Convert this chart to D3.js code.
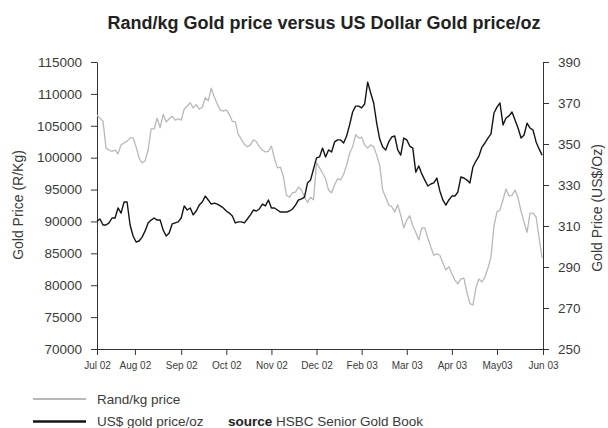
<!DOCTYPE html>
<html>
<head>
<meta charset="utf-8">
<script src="https://cdn.jsdelivr.net/npm/d3@7"></script>
<style>
  html, body { margin: 0; padding: 0; background: #fff; }
  svg { display: block; font-family: "Liberation Sans", Arial, Helvetica, sans-serif; }
</style>
</head>
<body>
<svg id="chart" width="608" height="428"></svg>
<script>
// ---- Data ----
const monthLabels = ["Jul 02","Aug 02","Sep 02","Oct 02","Nov 02","Dec 02","Feb 03","Mar 03","Apr 03","May03","Jun 03"];
const monthPositions = [0, 12.6, 28, 43, 58, 73, 88, 103, 118, 133, 148.3];
const randTicks = [70000,75000,80000,85000,90000,95000,100000,105000,110000,115000];
const usdTicks = [250,270,290,310,330,350,370,390];

// Rand per kg gold price (left axis)
const randPrice = [
106700,106200,105700,101500,101200,101000,101200,100600,102000,102300,
102600,103100,103100,101700,99900,99200,99500,101200,104500,104500,
106200,104700,106800,105600,106100,106500,105900,106100,105900,107600,
108100,108600,107800,108300,107600,107900,109400,108900,110900,109500,
108400,107500,107300,107500,106800,105700,105600,103600,102900,102100,
101700,102000,102800,102500,101700,101200,100900,101000,101800,99900,
98400,98500,97000,94100,93800,94500,94600,95400,94900,93800,
93000,93800,93400,99200,98400,97600,96700,94900,94500,95700,
96700,96500,97400,98800,100700,101700,103600,103100,103200,102000,
101500,102000,101700,100400,98800,94900,93800,92600,92300,91500,
92600,91000,89000,90200,90900,89300,88300,87100,89000,89000,
87400,86000,84700,84900,84700,83500,82400,82900,81800,80800,
80200,81000,81100,78900,77100,76900,79600,81000,80500,81300,
82700,84400,89300,91500,91800,93400,95100,94000,94100,94900,
93700,91600,89900,88300,91300,91300,90700,87400,84300
];

// US$ per ounce gold price (right axis)
const usdPrice = [
312.4,313.4,310.5,310.5,311.5,313.9,313.9,318.8,316.3,321.7,
321.7,310.5,305.1,302.2,302.7,304.6,307.6,311.5,312.9,313.9,
312.9,312.9,308.0,305.1,306.6,311.0,311.5,312.0,313.9,319.8,
317.8,318.8,315.4,317.3,320.2,321.7,324.6,322.7,320.7,321.2,
320.7,319.8,318.8,317.3,316.3,314.9,311.5,312.0,312.0,311.5,
313.4,315.4,317.8,317.3,318.3,320.7,319.8,322.7,318.8,318.8,
317.8,316.8,316.8,316.8,317.3,318.3,320.2,322.7,323.2,324.1,
331.0,332.4,337.8,343.2,343.7,348.0,343.7,347.1,346.1,351.0,
352.0,352.0,350.5,353.9,359.3,365.6,368.5,368.5,367.6,369.5,
380.2,374.9,370.0,360.2,352.4,348.5,347.1,351.0,353.4,353.9,
347.1,344.6,352.9,352.0,349.0,348.0,336.3,339.3,335.4,332.4,
329.5,330.5,331.0,333.4,327.1,322.7,320.2,322.7,324.6,324.6,
326.6,333.9,333.4,332.4,331.0,338.8,341.7,344.1,348.5,350.5,
352.9,354.9,365.1,368.0,370.0,359.3,362.7,363.7,365.6,361.7,
357.8,352.9,354.4,360.2,357.8,356.8,351.0,347.6,344.6
];

const titleText = "Rand/kg Gold price versus US Dollar Gold price/oz";
const leftTitle = "Gold Price (R/Kg)";
const rightTitle = "Gold Price (US$/Oz)";
const legendItems = ["Rand/kg price", "US$ gold price/oz"];

// ---- Drawing ----
const svg = d3.select("#chart");
const L = 97, R = 543, T = 62, B = 349;
const textColor = "#3a3a3a";
const grayColor = "#b8b8b8";
const blackColor = "#141414";

const x = d3.scaleLinear().domain([0, 148.3]).range([L, R]);
const yL = d3.scaleLinear().domain([70000, 115000]).range([B, T]);
const yR = d3.scaleLinear().domain([250, 390]).range([B, T]);

// Title
svg.append("text")
  .attr("x", 324).attr("y", 29)
  .attr("text-anchor", "middle")
  .attr("font-size", 18).attr("font-weight", "bold")
  .attr("fill", "#222")
  .text(titleText);

function styleAxis(g) {
  g.selectAll("path.domain").attr("stroke", "#333").attr("stroke-width", 1);
  g.selectAll(".tick line").attr("stroke", "#333").attr("stroke-width", 1);
  g.selectAll(".tick text").attr("fill", textColor).attr("font-family", "Liberation Sans, Arial, sans-serif");
}

// Left axis
const gL = svg.append("g").attr("transform", `translate(${L},0)`)
  .call(d3.axisLeft(yL).tickValues(randTicks).tickFormat(d3.format("d")).tickSize(6).tickSizeOuter(0).tickPadding(9));
styleAxis(gL);
gL.selectAll(".tick text").attr("font-size", 13.5);

// Right axis
const gR = svg.append("g").attr("transform", `translate(${R},0)`)
  .call(d3.axisRight(yR).tickValues(usdTicks).tickFormat(d3.format("d")).tickSize(6).tickSizeOuter(0).tickPadding(9));
styleAxis(gR);
gR.selectAll(".tick text").attr("font-size", 13.5);

// Bottom axis
const gB = svg.append("g").attr("transform", `translate(0,${B})`)
  .call(d3.axisBottom(x).tickValues(monthPositions).tickFormat((d, i) => monthLabels[i]).tickSize(6).tickSizeOuter(0).tickPadding(7));
styleAxis(gB);
gB.selectAll(".tick text").attr("font-size", 10);

// Axis titles
svg.append("text")
  .attr("transform", `translate(23,${205}) rotate(-90)`)
  .attr("text-anchor", "middle")
  .attr("font-size", 14).attr("fill", textColor)
  .text(leftTitle);
svg.append("text")
  .attr("transform", `translate(602,${208}) rotate(-90)`)
  .attr("text-anchor", "middle")
  .attr("font-size", 14).attr("fill", textColor)
  .text(rightTitle);

// Lines
const lineRand = d3.line().x((d, i) => x(i)).y(d => yL(d));
const lineUsd = d3.line().x((d, i) => x(i)).y(d => yR(d));

svg.append("path").datum(randPrice)
  .attr("d", lineRand).attr("fill", "none")
  .attr("stroke", grayColor).attr("stroke-width", 1.3).attr("stroke-linejoin", "round");
svg.append("path").datum(usdPrice)
  .attr("d", lineUsd).attr("fill", "none")
  .attr("stroke", blackColor).attr("stroke-width", 1.4).attr("stroke-linejoin", "round");

// Legend
const legend = svg.append("g");
const legendColors = [grayColor, blackColor];
const legendWidths = [2, 2.5];
legendItems.forEach((label, i) => {
  const yy = 399 + i * 22.5;
  legend.append("line").attr("x1", 33).attr("x2", 86).attr("y1", yy).attr("y2", yy)
    .attr("stroke", legendColors[i]).attr("stroke-width", legendWidths[i]);
  legend.append("text").attr("x", 97).attr("y", yy + 4.5)
    .attr("font-size", 13.5).attr("fill", textColor).text(label);
});
const src = legend.append("text").attr("x", 228).attr("y", 399 + 22.5 + 4.5)
  .attr("font-size", 13.5).attr("fill", "#222");
src.append("tspan").attr("font-weight", "bold").text("source");
src.append("tspan").attr("fill", textColor).text(" HSBC Senior Gold Book");
</script>
</body>
</html>
